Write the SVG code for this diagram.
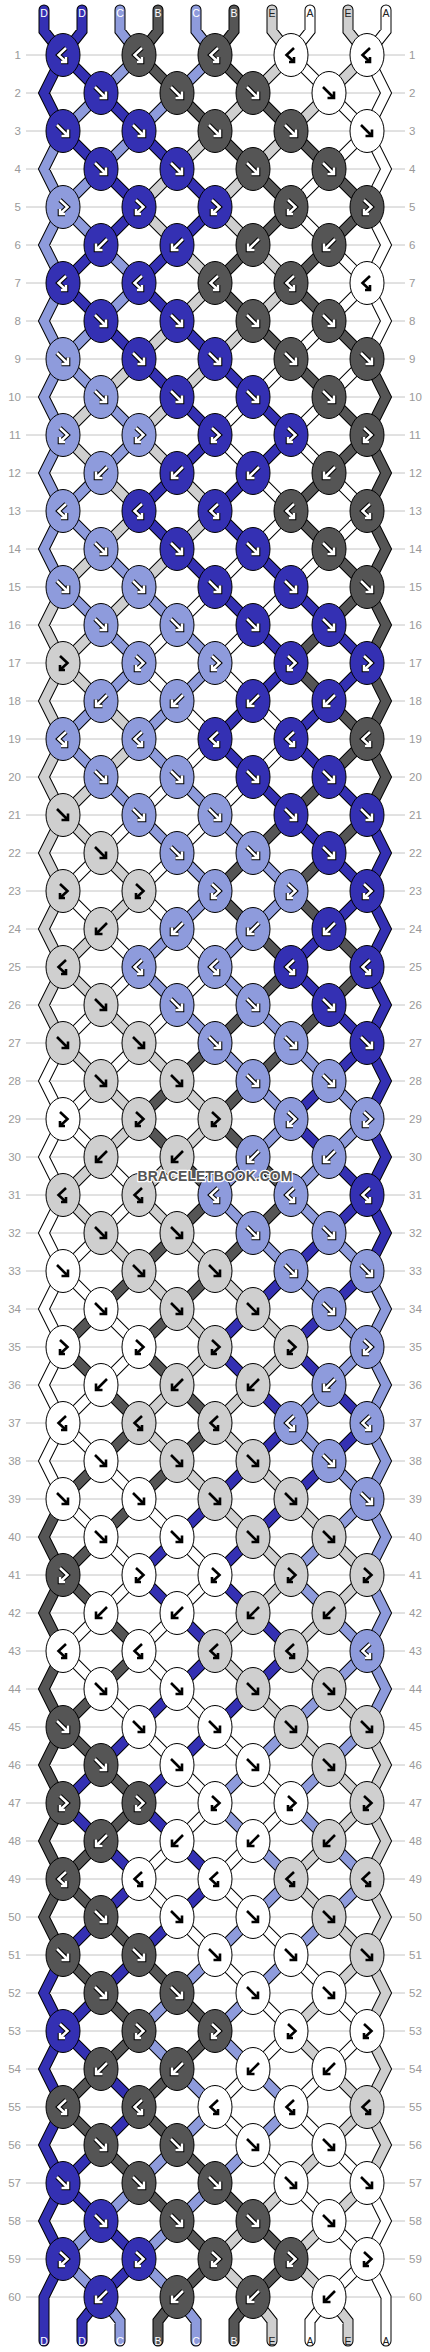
<svg xmlns="http://www.w3.org/2000/svg" width="430" height="2352" viewBox="0 0 430 2352">
<style>
.bg{fill:#fff}
.grid{fill:none;stroke:#c4c4c4;stroke-width:1}
.num{font-family:"Liberation Sans",Arial,sans-serif;font-size:11.5px;fill:#999}
.nl{text-anchor:end}
.str use{fill:none;stroke-linecap:round;stroke-linejoin:miter}
.o{stroke:#000;stroke-width:11}
.sD{stroke:#3430b3;stroke-width:9}
.sC{stroke:#8e9bdc;stroke-width:9}
.sB{stroke:#555;stroke-width:9}
.sE{stroke:#cfcfcf;stroke-width:9}
.sA{stroke:#fff;stroke-width:9}
ellipse{stroke:#000;stroke-width:1}
.D{fill:#3430b3}.C{fill:#8e9bdc}.B{fill:#555}.E{fill:#cfcfcf}.A{fill:#fff}
.ao{fill:none;stroke:#000;stroke-width:4.6}
.ai{fill:none;stroke:#fff;stroke-width:2.5}
.ak{fill:none;stroke:#000;stroke-width:2.6}
.lab{font-family:"Liberation Sans",Arial,sans-serif;font-size:10.5px;text-anchor:middle}
.lw{fill:#fff}.lk{fill:#222}
.wm{font-family:"Liberation Sans",Arial,sans-serif;font-size:14px;font-weight:bold;text-anchor:middle;fill:#555;stroke:#fff;stroke-width:2.5px;paint-order:stroke;stroke-linejoin:round}
</style>
<defs>
<path id="gf" d="M-6-6L4.5 4.5M-1.5 5H5V-1.5"/>
<path id="gb" d="M6-6L-4.5 4.5M1.5 5H-5V-1.5"/>
<path id="gfb" d="M-3-7L4.5 0-3 7M2 7H-3V2"/>
<path id="gbf" d="M3-7L-4.5 0 3 7M-2 7H3V2"/>
<g id="fW"><use href="#gf" class="ao"/><use href="#gf" class="ai"/></g>
<g id="bW"><use href="#gb" class="ao"/><use href="#gb" class="ai"/></g>
<g id="fbW"><use href="#gfb" class="ao"/><use href="#gfb" class="ai"/></g>
<g id="bfW"><use href="#gbf" class="ao"/><use href="#gbf" class="ai"/></g>
<g id="fK"><use href="#gf" class="ak"/></g>
<g id="bK"><use href="#gb" class="ak"/></g>
<g id="fbK"><use href="#gfb" class="ak"/></g>
<g id="bfK"><use href="#gbf" class="ak"/></g>
<path id="pD" d="M44 10V31L63 55L44 93 63 131M82 10V31L63 55M63 1955L44 1993 63 2031 44 2069 63 2107 44 2145 63 2183 44 2221 63 2259 44 2297V2341M367 815L386 853 367 891 386 929 367 967 386 1005 367 1043 386 1081 367 1119 386 1157 367 1195 386 1233 367 1271M101 2297L82 2321V2341M63 55l38 38M101 93l38 38M63 131l38 38M139 131l38 38M101 169l38 38M177 169l38 38M139 207l-38 38M215 207l-38 38M101 245l-38 38M177 245l-38 38M63 283l38 38M139 283l38 38M101 321l38 38M177 321l38 38M139 359l38 38M215 359l38 38M177 397l38 38M253 397l38 38M215 435l-38 38M291 435l-38 38M177 473l-38 38M253 473l-38 38M139 511l38 38M215 511l38 38M177 549l38 38M253 549l38 38M215 587l38 38M291 587l38 38M253 625l38 38M329 625l38 38M291 663l-38 38M367 663l-38 38M253 701l-38 38M329 701l-38 38M215 739l38 38M291 739l38 38M253 777l38 38M329 777l38 38M291 815l38 38M329 853l38 38M367 891l-38 38M329 929l-38 38M291 967l38 38M329 1005l38 38M367 1043l-38 38M329 1081l-38 38M291 1119l38 38M329 1157l38 38M367 1195l-38 38M329 1233l-38 38M291 1271l-38 38M367 1271l-38 38M253 1309l-38 38M329 1309l-38 38M215 1347l38 38M291 1347l38 38M253 1385l38 38M329 1385l38 38M291 1423l-38 38M367 1423l-38 38M253 1461l-38 38M329 1461l-38 38M215 1499l-38 38M291 1499l-38 38M177 1537l-38 38M253 1537l-38 38M139 1575l38 38M215 1575l38 38M177 1613l38 38M253 1613l38 38M215 1651l-38 38M291 1651l-38 38M177 1689l-38 38M253 1689l-38 38M139 1727l-38 38M215 1727l-38 38M101 1765l-38 38M177 1765l-38 38M63 1803l38 38M139 1803l38 38M101 1841l38 38M177 1841l38 38M139 1879l-38 38M215 1879l-38 38M101 1917l-38 38M177 1917l-38 38M139 1955l-38 38M101 1993l-38 38M63 2031l38 38M101 2069l38 38M139 2107l-38 38M101 2145l-38 38M63 2183l38 38M101 2221l38 38M139 2259l-38 38"/>
<path id="pC" d="M120 10V31L139 55M196 10V31L215 55M63 131L44 169 63 207 44 245 63 283 44 321 63 359 44 397 63 435 44 473 63 511 44 549 63 587M367 1271L386 1309 367 1347 386 1385 367 1423 386 1461 367 1499 386 1537 367 1575 386 1613 367 1651 386 1689 367 1727M101 2297L120 2321V2341M177 2297L196 2321V2341M139 55l-38 38M215 55l-38 38M101 93l-38 38M177 93l-38 38M139 131l-38 38M101 169l-38 38M63 207l38 38M101 245l38 38M139 283l-38 38M101 321l-38 38M63 359l38 38M101 397l38 38M139 435l-38 38M101 473l-38 38M63 511l38 38M101 549l38 38M63 587l38 38M139 587l38 38M101 625l38 38M177 625l38 38M139 663l-38 38M215 663l-38 38M101 701l-38 38M177 701l-38 38M63 739l38 38M139 739l38 38M101 777l38 38M177 777l38 38M139 815l38 38M215 815l38 38M177 853l38 38M253 853l38 38M215 891l-38 38M291 891l-38 38M177 929l-38 38M253 929l-38 38M139 967l38 38M215 967l38 38M177 1005l38 38M253 1005l38 38M215 1043l38 38M291 1043l38 38M253 1081l38 38M329 1081l38 38M291 1119l-38 38M367 1119l-38 38M253 1157l-38 38M329 1157l-38 38M215 1195l38 38M291 1195l38 38M253 1233l38 38M329 1233l38 38M291 1271l38 38M329 1309l38 38M367 1347l-38 38M329 1385l-38 38M291 1423l38 38M329 1461l38 38M367 1499l-38 38M329 1537l-38 38M291 1575l38 38M329 1613l38 38M367 1651l-38 38M329 1689l-38 38M291 1727l-38 38M367 1727l-38 38M253 1765l-38 38M329 1765l-38 38M215 1803l38 38M291 1803l38 38M253 1841l38 38M329 1841l38 38M291 1879l-38 38M367 1879l-38 38M253 1917l-38 38M329 1917l-38 38M215 1955l-38 38M291 1955l-38 38M177 1993l-38 38M253 1993l-38 38M139 2031l38 38M215 2031l38 38M177 2069l38 38M253 2069l38 38M215 2107l-38 38M291 2107l-38 38M177 2145l-38 38M253 2145l-38 38M139 2183l-38 38M215 2183l-38 38M101 2221l-38 38M177 2221l-38 38M63 2259l38 38M139 2259l38 38"/>
<path id="pB" d="M158 10V31L139 55M234 10V31L215 55M367 359L386 397 367 435 386 473 367 511 386 549 367 587 386 625 367 663 386 701 367 739 386 777 367 815M63 1499L44 1537 63 1575 44 1613 63 1651 44 1689 63 1727 44 1765 63 1803 44 1841 63 1879 44 1917 63 1955M177 2297L158 2321V2341M253 2297L234 2321V2341M139 55l38 38M215 55l38 38M177 93l38 38M253 93l38 38M215 131l38 38M291 131l38 38M253 169l38 38M329 169l38 38M291 207l-38 38M367 207l-38 38M253 245l-38 38M329 245l-38 38M215 283l38 38M291 283l38 38M253 321l38 38M329 321l38 38M291 359l38 38M329 397l38 38M367 435l-38 38M329 473l-38 38M291 511l38 38M329 549l38 38M367 587l-38 38M329 625l-38 38M291 663l38 38M329 701l38 38M367 739l-38 38M329 777l-38 38M291 815l-38 38M367 815l-38 38M253 853l-38 38M329 853l-38 38M215 891l38 38M291 891l38 38M253 929l38 38M329 929l38 38M291 967l-38 38M367 967l-38 38M253 1005l-38 38M329 1005l-38 38M215 1043l-38 38M291 1043l-38 38M177 1081l-38 38M253 1081l-38 38M139 1119l38 38M215 1119l38 38M177 1157l38 38M253 1157l38 38M215 1195l-38 38M291 1195l-38 38M177 1233l-38 38M253 1233l-38 38M139 1271l-38 38M215 1271l-38 38M101 1309l-38 38M177 1309l-38 38M63 1347l38 38M139 1347l38 38M101 1385l38 38M177 1385l38 38M139 1423l-38 38M215 1423l-38 38M101 1461l-38 38M177 1461l-38 38M139 1499l-38 38M101 1537l-38 38M63 1575l38 38M101 1613l38 38M139 1651l-38 38M101 1689l-38 38M63 1727l38 38M101 1765l38 38M139 1803l-38 38M101 1841l-38 38M63 1879l38 38M101 1917l38 38M63 1955l38 38M139 1955l38 38M101 1993l38 38M177 1993l38 38M139 2031l-38 38M215 2031l-38 38M101 2069l-38 38M177 2069l-38 38M63 2107l38 38M139 2107l38 38M101 2145l38 38M177 2145l38 38M139 2183l38 38M215 2183l38 38M177 2221l38 38M253 2221l38 38M215 2259l-38 38M291 2259l-38 38"/>
<path id="pE" d="M272 10V31L291 55M348 10V31L367 55M63 587L44 625 63 663 44 701 63 739 44 777 63 815 44 853 63 891 44 929 63 967 44 1005 63 1043M367 1727L386 1765 367 1803 386 1841 367 1879 386 1917 367 1955 386 1993 367 2031 386 2069 367 2107 386 2145 367 2183M253 2297L272 2321V2341M329 2297L348 2321V2341M291 55l-38 38M367 55l-38 38M253 93l-38 38M329 93l-38 38M215 131l-38 38M291 131l-38 38M177 169l-38 38M253 169l-38 38M139 207l38 38M215 207l38 38M177 245l38 38M253 245l38 38M215 283l-38 38M291 283l-38 38M177 321l-38 38M253 321l-38 38M139 359l-38 38M215 359l-38 38M101 397l-38 38M177 397l-38 38M63 435l38 38M139 435l38 38M101 473l38 38M177 473l38 38M139 511l-38 38M215 511l-38 38M101 549l-38 38M177 549l-38 38M139 587l-38 38M101 625l-38 38M63 663l38 38M101 701l38 38M139 739l-38 38M101 777l-38 38M63 815l38 38M101 853l38 38M139 891l-38 38M101 929l-38 38M63 967l38 38M101 1005l38 38M63 1043l38 38M139 1043l38 38M101 1081l38 38M177 1081l38 38M139 1119l-38 38M215 1119l-38 38M101 1157l-38 38M177 1157l-38 38M63 1195l38 38M139 1195l38 38M101 1233l38 38M177 1233l38 38M139 1271l38 38M215 1271l38 38M177 1309l38 38M253 1309l38 38M215 1347l-38 38M291 1347l-38 38M177 1385l-38 38M253 1385l-38 38M139 1423l38 38M215 1423l38 38M177 1461l38 38M253 1461l38 38M215 1499l38 38M291 1499l38 38M253 1537l38 38M329 1537l38 38M291 1575l-38 38M367 1575l-38 38M253 1613l-38 38M329 1613l-38 38M215 1651l38 38M291 1651l38 38M253 1689l38 38M329 1689l38 38M291 1727l38 38M329 1765l38 38M367 1803l-38 38M329 1841l-38 38M291 1879l38 38M329 1917l38 38M367 1955l-38 38M329 1993l-38 38M291 2031l38 38M329 2069l38 38M367 2107l-38 38M329 2145l-38 38M291 2183l-38 38M367 2183l-38 38M253 2221l-38 38M329 2221l-38 38M215 2259l38 38M291 2259l38 38"/>
<path id="pA" d="M310 10V31L291 55M386 10V31L367 55L386 93 367 131 386 169 367 207 386 245 367 283 386 321 367 359M63 1043L44 1081 63 1119 44 1157 63 1195 44 1233 63 1271 44 1309 63 1347 44 1385 63 1423 44 1461 63 1499M367 2183L386 2221 367 2259 386 2297V2341M329 2297L310 2321V2341M291 55l38 38M329 93l38 38M367 131l-38 38M329 169l-38 38M291 207l38 38M329 245l38 38M367 283l-38 38M329 321l-38 38M291 359l-38 38M367 359l-38 38M253 397l-38 38M329 397l-38 38M215 435l38 38M291 435l38 38M253 473l38 38M329 473l38 38M291 511l-38 38M367 511l-38 38M253 549l-38 38M329 549l-38 38M215 587l-38 38M291 587l-38 38M177 625l-38 38M253 625l-38 38M139 663l38 38M215 663l38 38M177 701l38 38M253 701l38 38M215 739l-38 38M291 739l-38 38M177 777l-38 38M253 777l-38 38M139 815l-38 38M215 815l-38 38M101 853l-38 38M177 853l-38 38M63 891l38 38M139 891l38 38M101 929l38 38M177 929l38 38M139 967l-38 38M215 967l-38 38M101 1005l-38 38M177 1005l-38 38M139 1043l-38 38M101 1081l-38 38M63 1119l38 38M101 1157l38 38M139 1195l-38 38M101 1233l-38 38M63 1271l38 38M101 1309l38 38M139 1347l-38 38M101 1385l-38 38M63 1423l38 38M101 1461l38 38M63 1499l38 38M139 1499l38 38M101 1537l38 38M177 1537l38 38M139 1575l-38 38M215 1575l-38 38M101 1613l-38 38M177 1613l-38 38M63 1651l38 38M139 1651l38 38M101 1689l38 38M177 1689l38 38M139 1727l38 38M215 1727l38 38M177 1765l38 38M253 1765l38 38M215 1803l-38 38M291 1803l-38 38M177 1841l-38 38M253 1841l-38 38M139 1879l38 38M215 1879l38 38M177 1917l38 38M253 1917l38 38M215 1955l38 38M291 1955l38 38M253 1993l38 38M329 1993l38 38M291 2031l-38 38M367 2031l-38 38M253 2069l-38 38M329 2069l-38 38M215 2107l38 38M291 2107l38 38M253 2145l38 38M329 2145l38 38M291 2183l38 38M329 2221l38 38M367 2259l-38 38"/>
</defs>
<rect class="bg" width="430" height="2352"/>
<path class="grid" d="M26 55h379M26 93h379M26 131h379M26 169h379M26 207h379M26 245h379M26 283h379M26 321h379M26 359h379M26 397h379M26 435h379M26 473h379M26 511h379M26 549h379M26 587h379M26 625h379M26 663h379M26 701h379M26 739h379M26 777h379M26 815h379M26 853h379M26 891h379M26 929h379M26 967h379M26 1005h379M26 1043h379M26 1081h379M26 1119h379M26 1157h379M26 1195h379M26 1233h379M26 1271h379M26 1309h379M26 1347h379M26 1385h379M26 1423h379M26 1461h379M26 1499h379M26 1537h379M26 1575h379M26 1613h379M26 1651h379M26 1689h379M26 1727h379M26 1765h379M26 1803h379M26 1841h379M26 1879h379M26 1917h379M26 1955h379M26 1993h379M26 2031h379M26 2069h379M26 2107h379M26 2145h379M26 2183h379M26 2221h379M26 2259h379M26 2297h379"/>
<g class="num nl">
<text x="21" y="59">1</text><text x="21" y="97">2</text><text x="21" y="135">3</text><text x="21" y="173">4</text><text x="21" y="211">5</text><text x="21" y="249">6</text><text x="21" y="287">7</text><text x="21" y="325">8</text><text x="21" y="363">9</text><text x="21" y="401">10</text><text x="21" y="439">11</text><text x="21" y="477">12</text><text x="21" y="515">13</text><text x="21" y="553">14</text><text x="21" y="591">15</text><text x="21" y="629">16</text><text x="21" y="667">17</text><text x="21" y="705">18</text><text x="21" y="743">19</text><text x="21" y="781">20</text><text x="21" y="819">21</text><text x="21" y="857">22</text><text x="21" y="895">23</text><text x="21" y="933">24</text><text x="21" y="971">25</text><text x="21" y="1009">26</text><text x="21" y="1047">27</text><text x="21" y="1085">28</text><text x="21" y="1123">29</text><text x="21" y="1161">30</text><text x="21" y="1199">31</text><text x="21" y="1237">32</text><text x="21" y="1275">33</text><text x="21" y="1313">34</text><text x="21" y="1351">35</text><text x="21" y="1389">36</text><text x="21" y="1427">37</text><text x="21" y="1465">38</text><text x="21" y="1503">39</text><text x="21" y="1541">40</text><text x="21" y="1579">41</text><text x="21" y="1617">42</text><text x="21" y="1655">43</text><text x="21" y="1693">44</text><text x="21" y="1731">45</text><text x="21" y="1769">46</text><text x="21" y="1807">47</text><text x="21" y="1845">48</text><text x="21" y="1883">49</text><text x="21" y="1921">50</text><text x="21" y="1959">51</text><text x="21" y="1997">52</text><text x="21" y="2035">53</text><text x="21" y="2073">54</text><text x="21" y="2111">55</text><text x="21" y="2149">56</text><text x="21" y="2187">57</text><text x="21" y="2225">58</text><text x="21" y="2263">59</text><text x="21" y="2301">60</text>
</g>
<g class="num">
<text x="409" y="59">1</text><text x="409" y="97">2</text><text x="409" y="135">3</text><text x="409" y="173">4</text><text x="409" y="211">5</text><text x="409" y="249">6</text><text x="409" y="287">7</text><text x="409" y="325">8</text><text x="409" y="363">9</text><text x="409" y="401">10</text><text x="409" y="439">11</text><text x="409" y="477">12</text><text x="409" y="515">13</text><text x="409" y="553">14</text><text x="409" y="591">15</text><text x="409" y="629">16</text><text x="409" y="667">17</text><text x="409" y="705">18</text><text x="409" y="743">19</text><text x="409" y="781">20</text><text x="409" y="819">21</text><text x="409" y="857">22</text><text x="409" y="895">23</text><text x="409" y="933">24</text><text x="409" y="971">25</text><text x="409" y="1009">26</text><text x="409" y="1047">27</text><text x="409" y="1085">28</text><text x="409" y="1123">29</text><text x="409" y="1161">30</text><text x="409" y="1199">31</text><text x="409" y="1237">32</text><text x="409" y="1275">33</text><text x="409" y="1313">34</text><text x="409" y="1351">35</text><text x="409" y="1389">36</text><text x="409" y="1427">37</text><text x="409" y="1465">38</text><text x="409" y="1503">39</text><text x="409" y="1541">40</text><text x="409" y="1579">41</text><text x="409" y="1617">42</text><text x="409" y="1655">43</text><text x="409" y="1693">44</text><text x="409" y="1731">45</text><text x="409" y="1769">46</text><text x="409" y="1807">47</text><text x="409" y="1845">48</text><text x="409" y="1883">49</text><text x="409" y="1921">50</text><text x="409" y="1959">51</text><text x="409" y="1997">52</text><text x="409" y="2035">53</text><text x="409" y="2073">54</text><text x="409" y="2111">55</text><text x="409" y="2149">56</text><text x="409" y="2187">57</text><text x="409" y="2225">58</text><text x="409" y="2263">59</text><text x="409" y="2301">60</text>
</g>
<g id="connectors" class="str">
<use href="#pD" class="o"/><use href="#pC" class="o"/><use href="#pB" class="o"/><use href="#pE" class="o"/><use href="#pA" class="o"/>
<use href="#pD" class="sD"/><use href="#pC" class="sC"/><use href="#pB" class="sB"/><use href="#pE" class="sE"/><use href="#pA" class="sA"/>
</g>
<g id="labels" class="lab">
<text class="lw" x="44" y="17">D</text><text class="lw" x="82" y="17">D</text><text class="lw" x="120" y="17">C</text><text class="lw" x="158" y="17">B</text><text class="lw" x="196" y="17">C</text><text class="lw" x="234" y="17">B</text><text class="lk" x="272" y="17">E</text><text class="lk" x="310" y="17">A</text><text class="lk" x="348" y="17">E</text><text class="lk" x="386" y="17">A</text>
<text class="lw" x="44" y="2345">D</text><text class="lw" x="82" y="2345">D</text><text class="lw" x="120" y="2345">C</text><text class="lw" x="158" y="2345">B</text><text class="lw" x="196" y="2345">C</text><text class="lw" x="234" y="2345">B</text><text class="lk" x="272" y="2345">E</text><text class="lk" x="310" y="2345">A</text><text class="lk" x="348" y="2345">E</text><text class="lk" x="386" y="2345">A</text>
</g>
<g id="knots">
<g id="k1_1" transform="translate(63 55)"><ellipse class="D" rx="17" ry="21.5"/><use href="#bfW"/></g>
<g id="k1_2" transform="translate(139 55)"><ellipse class="B" rx="17" ry="21.5"/><use href="#bfW"/></g>
<g id="k1_3" transform="translate(215 55)"><ellipse class="B" rx="17" ry="21.5"/><use href="#bfW"/></g>
<g id="k1_4" transform="translate(291 55)"><ellipse class="A" rx="17" ry="21.5"/><use href="#bfK"/></g>
<g id="k1_5" transform="translate(367 55)"><ellipse class="A" rx="17" ry="21.5"/><use href="#bfK"/></g>
<g id="k2_1" transform="translate(101 93)"><ellipse class="D" rx="17" ry="21.5"/><use href="#fW"/></g>
<g id="k2_2" transform="translate(177 93)"><ellipse class="B" rx="17" ry="21.5"/><use href="#fW"/></g>
<g id="k2_3" transform="translate(253 93)"><ellipse class="B" rx="17" ry="21.5"/><use href="#fW"/></g>
<g id="k2_4" transform="translate(329 93)"><ellipse class="A" rx="17" ry="21.5"/><use href="#fK"/></g>
<g id="k3_1" transform="translate(63 131)"><ellipse class="D" rx="17" ry="21.5"/><use href="#fW"/></g>
<g id="k3_2" transform="translate(139 131)"><ellipse class="D" rx="17" ry="21.5"/><use href="#fW"/></g>
<g id="k3_3" transform="translate(215 131)"><ellipse class="B" rx="17" ry="21.5"/><use href="#fW"/></g>
<g id="k3_4" transform="translate(291 131)"><ellipse class="B" rx="17" ry="21.5"/><use href="#fW"/></g>
<g id="k3_5" transform="translate(367 131)"><ellipse class="A" rx="17" ry="21.5"/><use href="#fK"/></g>
<g id="k4_1" transform="translate(101 169)"><ellipse class="D" rx="17" ry="21.5"/><use href="#fW"/></g>
<g id="k4_2" transform="translate(177 169)"><ellipse class="D" rx="17" ry="21.5"/><use href="#fW"/></g>
<g id="k4_3" transform="translate(253 169)"><ellipse class="B" rx="17" ry="21.5"/><use href="#fW"/></g>
<g id="k4_4" transform="translate(329 169)"><ellipse class="B" rx="17" ry="21.5"/><use href="#fW"/></g>
<g id="k5_1" transform="translate(63 207)"><ellipse class="C" rx="17" ry="21.5"/><use href="#fbW"/></g>
<g id="k5_2" transform="translate(139 207)"><ellipse class="D" rx="17" ry="21.5"/><use href="#fbW"/></g>
<g id="k5_3" transform="translate(215 207)"><ellipse class="D" rx="17" ry="21.5"/><use href="#fbW"/></g>
<g id="k5_4" transform="translate(291 207)"><ellipse class="B" rx="17" ry="21.5"/><use href="#fbW"/></g>
<g id="k5_5" transform="translate(367 207)"><ellipse class="B" rx="17" ry="21.5"/><use href="#fbW"/></g>
<g id="k6_1" transform="translate(101 245)"><ellipse class="D" rx="17" ry="21.5"/><use href="#bW"/></g>
<g id="k6_2" transform="translate(177 245)"><ellipse class="D" rx="17" ry="21.5"/><use href="#bW"/></g>
<g id="k6_3" transform="translate(253 245)"><ellipse class="B" rx="17" ry="21.5"/><use href="#bW"/></g>
<g id="k6_4" transform="translate(329 245)"><ellipse class="B" rx="17" ry="21.5"/><use href="#bW"/></g>
<g id="k7_1" transform="translate(63 283)"><ellipse class="D" rx="17" ry="21.5"/><use href="#bfW"/></g>
<g id="k7_2" transform="translate(139 283)"><ellipse class="D" rx="17" ry="21.5"/><use href="#bfW"/></g>
<g id="k7_3" transform="translate(215 283)"><ellipse class="B" rx="17" ry="21.5"/><use href="#bfW"/></g>
<g id="k7_4" transform="translate(291 283)"><ellipse class="B" rx="17" ry="21.5"/><use href="#bfW"/></g>
<g id="k7_5" transform="translate(367 283)"><ellipse class="A" rx="17" ry="21.5"/><use href="#bfK"/></g>
<g id="k8_1" transform="translate(101 321)"><ellipse class="D" rx="17" ry="21.5"/><use href="#fW"/></g>
<g id="k8_2" transform="translate(177 321)"><ellipse class="D" rx="17" ry="21.5"/><use href="#fW"/></g>
<g id="k8_3" transform="translate(253 321)"><ellipse class="B" rx="17" ry="21.5"/><use href="#fW"/></g>
<g id="k8_4" transform="translate(329 321)"><ellipse class="B" rx="17" ry="21.5"/><use href="#fW"/></g>
<g id="k9_1" transform="translate(63 359)"><ellipse class="C" rx="17" ry="21.5"/><use href="#fW"/></g>
<g id="k9_2" transform="translate(139 359)"><ellipse class="D" rx="17" ry="21.5"/><use href="#fW"/></g>
<g id="k9_3" transform="translate(215 359)"><ellipse class="D" rx="17" ry="21.5"/><use href="#fW"/></g>
<g id="k9_4" transform="translate(291 359)"><ellipse class="B" rx="17" ry="21.5"/><use href="#fW"/></g>
<g id="k9_5" transform="translate(367 359)"><ellipse class="B" rx="17" ry="21.5"/><use href="#fW"/></g>
<g id="k10_1" transform="translate(101 397)"><ellipse class="C" rx="17" ry="21.5"/><use href="#fW"/></g>
<g id="k10_2" transform="translate(177 397)"><ellipse class="D" rx="17" ry="21.5"/><use href="#fW"/></g>
<g id="k10_3" transform="translate(253 397)"><ellipse class="D" rx="17" ry="21.5"/><use href="#fW"/></g>
<g id="k10_4" transform="translate(329 397)"><ellipse class="B" rx="17" ry="21.5"/><use href="#fW"/></g>
<g id="k11_1" transform="translate(63 435)"><ellipse class="C" rx="17" ry="21.5"/><use href="#fbW"/></g>
<g id="k11_2" transform="translate(139 435)"><ellipse class="C" rx="17" ry="21.5"/><use href="#fbW"/></g>
<g id="k11_3" transform="translate(215 435)"><ellipse class="D" rx="17" ry="21.5"/><use href="#fbW"/></g>
<g id="k11_4" transform="translate(291 435)"><ellipse class="D" rx="17" ry="21.5"/><use href="#fbW"/></g>
<g id="k11_5" transform="translate(367 435)"><ellipse class="B" rx="17" ry="21.5"/><use href="#fbW"/></g>
<g id="k12_1" transform="translate(101 473)"><ellipse class="C" rx="17" ry="21.5"/><use href="#bW"/></g>
<g id="k12_2" transform="translate(177 473)"><ellipse class="D" rx="17" ry="21.5"/><use href="#bW"/></g>
<g id="k12_3" transform="translate(253 473)"><ellipse class="D" rx="17" ry="21.5"/><use href="#bW"/></g>
<g id="k12_4" transform="translate(329 473)"><ellipse class="B" rx="17" ry="21.5"/><use href="#bW"/></g>
<g id="k13_1" transform="translate(63 511)"><ellipse class="C" rx="17" ry="21.5"/><use href="#bfW"/></g>
<g id="k13_2" transform="translate(139 511)"><ellipse class="D" rx="17" ry="21.5"/><use href="#bfW"/></g>
<g id="k13_3" transform="translate(215 511)"><ellipse class="D" rx="17" ry="21.5"/><use href="#bfW"/></g>
<g id="k13_4" transform="translate(291 511)"><ellipse class="B" rx="17" ry="21.5"/><use href="#bfW"/></g>
<g id="k13_5" transform="translate(367 511)"><ellipse class="B" rx="17" ry="21.5"/><use href="#bfW"/></g>
<g id="k14_1" transform="translate(101 549)"><ellipse class="C" rx="17" ry="21.5"/><use href="#fW"/></g>
<g id="k14_2" transform="translate(177 549)"><ellipse class="D" rx="17" ry="21.5"/><use href="#fW"/></g>
<g id="k14_3" transform="translate(253 549)"><ellipse class="D" rx="17" ry="21.5"/><use href="#fW"/></g>
<g id="k14_4" transform="translate(329 549)"><ellipse class="B" rx="17" ry="21.5"/><use href="#fW"/></g>
<g id="k15_1" transform="translate(63 587)"><ellipse class="C" rx="17" ry="21.5"/><use href="#fW"/></g>
<g id="k15_2" transform="translate(139 587)"><ellipse class="C" rx="17" ry="21.5"/><use href="#fW"/></g>
<g id="k15_3" transform="translate(215 587)"><ellipse class="D" rx="17" ry="21.5"/><use href="#fW"/></g>
<g id="k15_4" transform="translate(291 587)"><ellipse class="D" rx="17" ry="21.5"/><use href="#fW"/></g>
<g id="k15_5" transform="translate(367 587)"><ellipse class="B" rx="17" ry="21.5"/><use href="#fW"/></g>
<g id="k16_1" transform="translate(101 625)"><ellipse class="C" rx="17" ry="21.5"/><use href="#fW"/></g>
<g id="k16_2" transform="translate(177 625)"><ellipse class="C" rx="17" ry="21.5"/><use href="#fW"/></g>
<g id="k16_3" transform="translate(253 625)"><ellipse class="D" rx="17" ry="21.5"/><use href="#fW"/></g>
<g id="k16_4" transform="translate(329 625)"><ellipse class="D" rx="17" ry="21.5"/><use href="#fW"/></g>
<g id="k17_1" transform="translate(63 663)"><ellipse class="E" rx="17" ry="21.5"/><use href="#fbK"/></g>
<g id="k17_2" transform="translate(139 663)"><ellipse class="C" rx="17" ry="21.5"/><use href="#fbW"/></g>
<g id="k17_3" transform="translate(215 663)"><ellipse class="C" rx="17" ry="21.5"/><use href="#fbW"/></g>
<g id="k17_4" transform="translate(291 663)"><ellipse class="D" rx="17" ry="21.5"/><use href="#fbW"/></g>
<g id="k17_5" transform="translate(367 663)"><ellipse class="D" rx="17" ry="21.5"/><use href="#fbW"/></g>
<g id="k18_1" transform="translate(101 701)"><ellipse class="C" rx="17" ry="21.5"/><use href="#bW"/></g>
<g id="k18_2" transform="translate(177 701)"><ellipse class="C" rx="17" ry="21.5"/><use href="#bW"/></g>
<g id="k18_3" transform="translate(253 701)"><ellipse class="D" rx="17" ry="21.5"/><use href="#bW"/></g>
<g id="k18_4" transform="translate(329 701)"><ellipse class="D" rx="17" ry="21.5"/><use href="#bW"/></g>
<g id="k19_1" transform="translate(63 739)"><ellipse class="C" rx="17" ry="21.5"/><use href="#bfW"/></g>
<g id="k19_2" transform="translate(139 739)"><ellipse class="C" rx="17" ry="21.5"/><use href="#bfW"/></g>
<g id="k19_3" transform="translate(215 739)"><ellipse class="D" rx="17" ry="21.5"/><use href="#bfW"/></g>
<g id="k19_4" transform="translate(291 739)"><ellipse class="D" rx="17" ry="21.5"/><use href="#bfW"/></g>
<g id="k19_5" transform="translate(367 739)"><ellipse class="B" rx="17" ry="21.5"/><use href="#bfW"/></g>
<g id="k20_1" transform="translate(101 777)"><ellipse class="C" rx="17" ry="21.5"/><use href="#fW"/></g>
<g id="k20_2" transform="translate(177 777)"><ellipse class="C" rx="17" ry="21.5"/><use href="#fW"/></g>
<g id="k20_3" transform="translate(253 777)"><ellipse class="D" rx="17" ry="21.5"/><use href="#fW"/></g>
<g id="k20_4" transform="translate(329 777)"><ellipse class="D" rx="17" ry="21.5"/><use href="#fW"/></g>
<g id="k21_1" transform="translate(63 815)"><ellipse class="E" rx="17" ry="21.5"/><use href="#fK"/></g>
<g id="k21_2" transform="translate(139 815)"><ellipse class="C" rx="17" ry="21.5"/><use href="#fW"/></g>
<g id="k21_3" transform="translate(215 815)"><ellipse class="C" rx="17" ry="21.5"/><use href="#fW"/></g>
<g id="k21_4" transform="translate(291 815)"><ellipse class="D" rx="17" ry="21.5"/><use href="#fW"/></g>
<g id="k21_5" transform="translate(367 815)"><ellipse class="D" rx="17" ry="21.5"/><use href="#fW"/></g>
<g id="k22_1" transform="translate(101 853)"><ellipse class="E" rx="17" ry="21.5"/><use href="#fK"/></g>
<g id="k22_2" transform="translate(177 853)"><ellipse class="C" rx="17" ry="21.5"/><use href="#fW"/></g>
<g id="k22_3" transform="translate(253 853)"><ellipse class="C" rx="17" ry="21.5"/><use href="#fW"/></g>
<g id="k22_4" transform="translate(329 853)"><ellipse class="D" rx="17" ry="21.5"/><use href="#fW"/></g>
<g id="k23_1" transform="translate(63 891)"><ellipse class="E" rx="17" ry="21.5"/><use href="#fbK"/></g>
<g id="k23_2" transform="translate(139 891)"><ellipse class="E" rx="17" ry="21.5"/><use href="#fbK"/></g>
<g id="k23_3" transform="translate(215 891)"><ellipse class="C" rx="17" ry="21.5"/><use href="#fbW"/></g>
<g id="k23_4" transform="translate(291 891)"><ellipse class="C" rx="17" ry="21.5"/><use href="#fbW"/></g>
<g id="k23_5" transform="translate(367 891)"><ellipse class="D" rx="17" ry="21.5"/><use href="#fbW"/></g>
<g id="k24_1" transform="translate(101 929)"><ellipse class="E" rx="17" ry="21.5"/><use href="#bK"/></g>
<g id="k24_2" transform="translate(177 929)"><ellipse class="C" rx="17" ry="21.5"/><use href="#bW"/></g>
<g id="k24_3" transform="translate(253 929)"><ellipse class="C" rx="17" ry="21.5"/><use href="#bW"/></g>
<g id="k24_4" transform="translate(329 929)"><ellipse class="D" rx="17" ry="21.5"/><use href="#bW"/></g>
<g id="k25_1" transform="translate(63 967)"><ellipse class="E" rx="17" ry="21.5"/><use href="#bfK"/></g>
<g id="k25_2" transform="translate(139 967)"><ellipse class="C" rx="17" ry="21.5"/><use href="#bfW"/></g>
<g id="k25_3" transform="translate(215 967)"><ellipse class="C" rx="17" ry="21.5"/><use href="#bfW"/></g>
<g id="k25_4" transform="translate(291 967)"><ellipse class="D" rx="17" ry="21.5"/><use href="#bfW"/></g>
<g id="k25_5" transform="translate(367 967)"><ellipse class="D" rx="17" ry="21.5"/><use href="#bfW"/></g>
<g id="k26_1" transform="translate(101 1005)"><ellipse class="E" rx="17" ry="21.5"/><use href="#fK"/></g>
<g id="k26_2" transform="translate(177 1005)"><ellipse class="C" rx="17" ry="21.5"/><use href="#fW"/></g>
<g id="k26_3" transform="translate(253 1005)"><ellipse class="C" rx="17" ry="21.5"/><use href="#fW"/></g>
<g id="k26_4" transform="translate(329 1005)"><ellipse class="D" rx="17" ry="21.5"/><use href="#fW"/></g>
<g id="k27_1" transform="translate(63 1043)"><ellipse class="E" rx="17" ry="21.5"/><use href="#fK"/></g>
<g id="k27_2" transform="translate(139 1043)"><ellipse class="E" rx="17" ry="21.5"/><use href="#fK"/></g>
<g id="k27_3" transform="translate(215 1043)"><ellipse class="C" rx="17" ry="21.5"/><use href="#fW"/></g>
<g id="k27_4" transform="translate(291 1043)"><ellipse class="C" rx="17" ry="21.5"/><use href="#fW"/></g>
<g id="k27_5" transform="translate(367 1043)"><ellipse class="D" rx="17" ry="21.5"/><use href="#fW"/></g>
<g id="k28_1" transform="translate(101 1081)"><ellipse class="E" rx="17" ry="21.5"/><use href="#fK"/></g>
<g id="k28_2" transform="translate(177 1081)"><ellipse class="E" rx="17" ry="21.5"/><use href="#fK"/></g>
<g id="k28_3" transform="translate(253 1081)"><ellipse class="C" rx="17" ry="21.5"/><use href="#fW"/></g>
<g id="k28_4" transform="translate(329 1081)"><ellipse class="C" rx="17" ry="21.5"/><use href="#fW"/></g>
<g id="k29_1" transform="translate(63 1119)"><ellipse class="A" rx="17" ry="21.5"/><use href="#fbK"/></g>
<g id="k29_2" transform="translate(139 1119)"><ellipse class="E" rx="17" ry="21.5"/><use href="#fbK"/></g>
<g id="k29_3" transform="translate(215 1119)"><ellipse class="E" rx="17" ry="21.5"/><use href="#fbK"/></g>
<g id="k29_4" transform="translate(291 1119)"><ellipse class="C" rx="17" ry="21.5"/><use href="#fbW"/></g>
<g id="k29_5" transform="translate(367 1119)"><ellipse class="C" rx="17" ry="21.5"/><use href="#fbW"/></g>
<g id="k30_1" transform="translate(101 1157)"><ellipse class="E" rx="17" ry="21.5"/><use href="#bK"/></g>
<g id="k30_2" transform="translate(177 1157)"><ellipse class="E" rx="17" ry="21.5"/><use href="#bK"/></g>
<g id="k30_3" transform="translate(253 1157)"><ellipse class="C" rx="17" ry="21.5"/><use href="#bW"/></g>
<g id="k30_4" transform="translate(329 1157)"><ellipse class="C" rx="17" ry="21.5"/><use href="#bW"/></g>
<g id="k31_1" transform="translate(63 1195)"><ellipse class="E" rx="17" ry="21.5"/><use href="#bfK"/></g>
<g id="k31_2" transform="translate(139 1195)"><ellipse class="E" rx="17" ry="21.5"/><use href="#bfK"/></g>
<g id="k31_3" transform="translate(215 1195)"><ellipse class="C" rx="17" ry="21.5"/><use href="#bfW"/></g>
<g id="k31_4" transform="translate(291 1195)"><ellipse class="C" rx="17" ry="21.5"/><use href="#bfW"/></g>
<g id="k31_5" transform="translate(367 1195)"><ellipse class="D" rx="17" ry="21.5"/><use href="#bfW"/></g>
<g id="k32_1" transform="translate(101 1233)"><ellipse class="E" rx="17" ry="21.5"/><use href="#fK"/></g>
<g id="k32_2" transform="translate(177 1233)"><ellipse class="E" rx="17" ry="21.5"/><use href="#fK"/></g>
<g id="k32_3" transform="translate(253 1233)"><ellipse class="C" rx="17" ry="21.5"/><use href="#fW"/></g>
<g id="k32_4" transform="translate(329 1233)"><ellipse class="C" rx="17" ry="21.5"/><use href="#fW"/></g>
<g id="k33_1" transform="translate(63 1271)"><ellipse class="A" rx="17" ry="21.5"/><use href="#fK"/></g>
<g id="k33_2" transform="translate(139 1271)"><ellipse class="E" rx="17" ry="21.5"/><use href="#fK"/></g>
<g id="k33_3" transform="translate(215 1271)"><ellipse class="E" rx="17" ry="21.5"/><use href="#fK"/></g>
<g id="k33_4" transform="translate(291 1271)"><ellipse class="C" rx="17" ry="21.5"/><use href="#fW"/></g>
<g id="k33_5" transform="translate(367 1271)"><ellipse class="C" rx="17" ry="21.5"/><use href="#fW"/></g>
<g id="k34_1" transform="translate(101 1309)"><ellipse class="A" rx="17" ry="21.5"/><use href="#fK"/></g>
<g id="k34_2" transform="translate(177 1309)"><ellipse class="E" rx="17" ry="21.5"/><use href="#fK"/></g>
<g id="k34_3" transform="translate(253 1309)"><ellipse class="E" rx="17" ry="21.5"/><use href="#fK"/></g>
<g id="k34_4" transform="translate(329 1309)"><ellipse class="C" rx="17" ry="21.5"/><use href="#fW"/></g>
<g id="k35_1" transform="translate(63 1347)"><ellipse class="A" rx="17" ry="21.5"/><use href="#fbK"/></g>
<g id="k35_2" transform="translate(139 1347)"><ellipse class="A" rx="17" ry="21.5"/><use href="#fbK"/></g>
<g id="k35_3" transform="translate(215 1347)"><ellipse class="E" rx="17" ry="21.5"/><use href="#fbK"/></g>
<g id="k35_4" transform="translate(291 1347)"><ellipse class="E" rx="17" ry="21.5"/><use href="#fbK"/></g>
<g id="k35_5" transform="translate(367 1347)"><ellipse class="C" rx="17" ry="21.5"/><use href="#fbW"/></g>
<g id="k36_1" transform="translate(101 1385)"><ellipse class="A" rx="17" ry="21.5"/><use href="#bK"/></g>
<g id="k36_2" transform="translate(177 1385)"><ellipse class="E" rx="17" ry="21.5"/><use href="#bK"/></g>
<g id="k36_3" transform="translate(253 1385)"><ellipse class="E" rx="17" ry="21.5"/><use href="#bK"/></g>
<g id="k36_4" transform="translate(329 1385)"><ellipse class="C" rx="17" ry="21.5"/><use href="#bW"/></g>
<g id="k37_1" transform="translate(63 1423)"><ellipse class="A" rx="17" ry="21.5"/><use href="#bfK"/></g>
<g id="k37_2" transform="translate(139 1423)"><ellipse class="E" rx="17" ry="21.5"/><use href="#bfK"/></g>
<g id="k37_3" transform="translate(215 1423)"><ellipse class="E" rx="17" ry="21.5"/><use href="#bfK"/></g>
<g id="k37_4" transform="translate(291 1423)"><ellipse class="C" rx="17" ry="21.5"/><use href="#bfW"/></g>
<g id="k37_5" transform="translate(367 1423)"><ellipse class="C" rx="17" ry="21.5"/><use href="#bfW"/></g>
<g id="k38_1" transform="translate(101 1461)"><ellipse class="A" rx="17" ry="21.5"/><use href="#fK"/></g>
<g id="k38_2" transform="translate(177 1461)"><ellipse class="E" rx="17" ry="21.5"/><use href="#fK"/></g>
<g id="k38_3" transform="translate(253 1461)"><ellipse class="E" rx="17" ry="21.5"/><use href="#fK"/></g>
<g id="k38_4" transform="translate(329 1461)"><ellipse class="C" rx="17" ry="21.5"/><use href="#fW"/></g>
<g id="k39_1" transform="translate(63 1499)"><ellipse class="A" rx="17" ry="21.5"/><use href="#fK"/></g>
<g id="k39_2" transform="translate(139 1499)"><ellipse class="A" rx="17" ry="21.5"/><use href="#fK"/></g>
<g id="k39_3" transform="translate(215 1499)"><ellipse class="E" rx="17" ry="21.5"/><use href="#fK"/></g>
<g id="k39_4" transform="translate(291 1499)"><ellipse class="E" rx="17" ry="21.5"/><use href="#fK"/></g>
<g id="k39_5" transform="translate(367 1499)"><ellipse class="C" rx="17" ry="21.5"/><use href="#fW"/></g>
<g id="k40_1" transform="translate(101 1537)"><ellipse class="A" rx="17" ry="21.5"/><use href="#fK"/></g>
<g id="k40_2" transform="translate(177 1537)"><ellipse class="A" rx="17" ry="21.5"/><use href="#fK"/></g>
<g id="k40_3" transform="translate(253 1537)"><ellipse class="E" rx="17" ry="21.5"/><use href="#fK"/></g>
<g id="k40_4" transform="translate(329 1537)"><ellipse class="E" rx="17" ry="21.5"/><use href="#fK"/></g>
<g id="k41_1" transform="translate(63 1575)"><ellipse class="B" rx="17" ry="21.5"/><use href="#fbW"/></g>
<g id="k41_2" transform="translate(139 1575)"><ellipse class="A" rx="17" ry="21.5"/><use href="#fbK"/></g>
<g id="k41_3" transform="translate(215 1575)"><ellipse class="A" rx="17" ry="21.5"/><use href="#fbK"/></g>
<g id="k41_4" transform="translate(291 1575)"><ellipse class="E" rx="17" ry="21.5"/><use href="#fbK"/></g>
<g id="k41_5" transform="translate(367 1575)"><ellipse class="E" rx="17" ry="21.5"/><use href="#fbK"/></g>
<g id="k42_1" transform="translate(101 1613)"><ellipse class="A" rx="17" ry="21.5"/><use href="#bK"/></g>
<g id="k42_2" transform="translate(177 1613)"><ellipse class="A" rx="17" ry="21.5"/><use href="#bK"/></g>
<g id="k42_3" transform="translate(253 1613)"><ellipse class="E" rx="17" ry="21.5"/><use href="#bK"/></g>
<g id="k42_4" transform="translate(329 1613)"><ellipse class="E" rx="17" ry="21.5"/><use href="#bK"/></g>
<g id="k43_1" transform="translate(63 1651)"><ellipse class="A" rx="17" ry="21.5"/><use href="#bfK"/></g>
<g id="k43_2" transform="translate(139 1651)"><ellipse class="A" rx="17" ry="21.5"/><use href="#bfK"/></g>
<g id="k43_3" transform="translate(215 1651)"><ellipse class="E" rx="17" ry="21.5"/><use href="#bfK"/></g>
<g id="k43_4" transform="translate(291 1651)"><ellipse class="E" rx="17" ry="21.5"/><use href="#bfK"/></g>
<g id="k43_5" transform="translate(367 1651)"><ellipse class="C" rx="17" ry="21.5"/><use href="#bfW"/></g>
<g id="k44_1" transform="translate(101 1689)"><ellipse class="A" rx="17" ry="21.5"/><use href="#fK"/></g>
<g id="k44_2" transform="translate(177 1689)"><ellipse class="A" rx="17" ry="21.5"/><use href="#fK"/></g>
<g id="k44_3" transform="translate(253 1689)"><ellipse class="E" rx="17" ry="21.5"/><use href="#fK"/></g>
<g id="k44_4" transform="translate(329 1689)"><ellipse class="E" rx="17" ry="21.5"/><use href="#fK"/></g>
<g id="k45_1" transform="translate(63 1727)"><ellipse class="B" rx="17" ry="21.5"/><use href="#fW"/></g>
<g id="k45_2" transform="translate(139 1727)"><ellipse class="A" rx="17" ry="21.5"/><use href="#fK"/></g>
<g id="k45_3" transform="translate(215 1727)"><ellipse class="A" rx="17" ry="21.5"/><use href="#fK"/></g>
<g id="k45_4" transform="translate(291 1727)"><ellipse class="E" rx="17" ry="21.5"/><use href="#fK"/></g>
<g id="k45_5" transform="translate(367 1727)"><ellipse class="E" rx="17" ry="21.5"/><use href="#fK"/></g>
<g id="k46_1" transform="translate(101 1765)"><ellipse class="B" rx="17" ry="21.5"/><use href="#fW"/></g>
<g id="k46_2" transform="translate(177 1765)"><ellipse class="A" rx="17" ry="21.5"/><use href="#fK"/></g>
<g id="k46_3" transform="translate(253 1765)"><ellipse class="A" rx="17" ry="21.5"/><use href="#fK"/></g>
<g id="k46_4" transform="translate(329 1765)"><ellipse class="E" rx="17" ry="21.5"/><use href="#fK"/></g>
<g id="k47_1" transform="translate(63 1803)"><ellipse class="B" rx="17" ry="21.5"/><use href="#fbW"/></g>
<g id="k47_2" transform="translate(139 1803)"><ellipse class="B" rx="17" ry="21.5"/><use href="#fbW"/></g>
<g id="k47_3" transform="translate(215 1803)"><ellipse class="A" rx="17" ry="21.5"/><use href="#fbK"/></g>
<g id="k47_4" transform="translate(291 1803)"><ellipse class="A" rx="17" ry="21.5"/><use href="#fbK"/></g>
<g id="k47_5" transform="translate(367 1803)"><ellipse class="E" rx="17" ry="21.5"/><use href="#fbK"/></g>
<g id="k48_1" transform="translate(101 1841)"><ellipse class="B" rx="17" ry="21.5"/><use href="#bW"/></g>
<g id="k48_2" transform="translate(177 1841)"><ellipse class="A" rx="17" ry="21.5"/><use href="#bK"/></g>
<g id="k48_3" transform="translate(253 1841)"><ellipse class="A" rx="17" ry="21.5"/><use href="#bK"/></g>
<g id="k48_4" transform="translate(329 1841)"><ellipse class="E" rx="17" ry="21.5"/><use href="#bK"/></g>
<g id="k49_1" transform="translate(63 1879)"><ellipse class="B" rx="17" ry="21.5"/><use href="#bfW"/></g>
<g id="k49_2" transform="translate(139 1879)"><ellipse class="A" rx="17" ry="21.5"/><use href="#bfK"/></g>
<g id="k49_3" transform="translate(215 1879)"><ellipse class="A" rx="17" ry="21.5"/><use href="#bfK"/></g>
<g id="k49_4" transform="translate(291 1879)"><ellipse class="E" rx="17" ry="21.5"/><use href="#bfK"/></g>
<g id="k49_5" transform="translate(367 1879)"><ellipse class="E" rx="17" ry="21.5"/><use href="#bfK"/></g>
<g id="k50_1" transform="translate(101 1917)"><ellipse class="B" rx="17" ry="21.5"/><use href="#fW"/></g>
<g id="k50_2" transform="translate(177 1917)"><ellipse class="A" rx="17" ry="21.5"/><use href="#fK"/></g>
<g id="k50_3" transform="translate(253 1917)"><ellipse class="A" rx="17" ry="21.5"/><use href="#fK"/></g>
<g id="k50_4" transform="translate(329 1917)"><ellipse class="E" rx="17" ry="21.5"/><use href="#fK"/></g>
<g id="k51_1" transform="translate(63 1955)"><ellipse class="B" rx="17" ry="21.5"/><use href="#fW"/></g>
<g id="k51_2" transform="translate(139 1955)"><ellipse class="B" rx="17" ry="21.5"/><use href="#fW"/></g>
<g id="k51_3" transform="translate(215 1955)"><ellipse class="A" rx="17" ry="21.5"/><use href="#fK"/></g>
<g id="k51_4" transform="translate(291 1955)"><ellipse class="A" rx="17" ry="21.5"/><use href="#fK"/></g>
<g id="k51_5" transform="translate(367 1955)"><ellipse class="E" rx="17" ry="21.5"/><use href="#fK"/></g>
<g id="k52_1" transform="translate(101 1993)"><ellipse class="B" rx="17" ry="21.5"/><use href="#fW"/></g>
<g id="k52_2" transform="translate(177 1993)"><ellipse class="B" rx="17" ry="21.5"/><use href="#fW"/></g>
<g id="k52_3" transform="translate(253 1993)"><ellipse class="A" rx="17" ry="21.5"/><use href="#fK"/></g>
<g id="k52_4" transform="translate(329 1993)"><ellipse class="A" rx="17" ry="21.5"/><use href="#fK"/></g>
<g id="k53_1" transform="translate(63 2031)"><ellipse class="D" rx="17" ry="21.5"/><use href="#fbW"/></g>
<g id="k53_2" transform="translate(139 2031)"><ellipse class="B" rx="17" ry="21.5"/><use href="#fbW"/></g>
<g id="k53_3" transform="translate(215 2031)"><ellipse class="B" rx="17" ry="21.5"/><use href="#fbW"/></g>
<g id="k53_4" transform="translate(291 2031)"><ellipse class="A" rx="17" ry="21.5"/><use href="#fbK"/></g>
<g id="k53_5" transform="translate(367 2031)"><ellipse class="A" rx="17" ry="21.5"/><use href="#fbK"/></g>
<g id="k54_1" transform="translate(101 2069)"><ellipse class="B" rx="17" ry="21.5"/><use href="#bW"/></g>
<g id="k54_2" transform="translate(177 2069)"><ellipse class="B" rx="17" ry="21.5"/><use href="#bW"/></g>
<g id="k54_3" transform="translate(253 2069)"><ellipse class="A" rx="17" ry="21.5"/><use href="#bK"/></g>
<g id="k54_4" transform="translate(329 2069)"><ellipse class="A" rx="17" ry="21.5"/><use href="#bK"/></g>
<g id="k55_1" transform="translate(63 2107)"><ellipse class="B" rx="17" ry="21.5"/><use href="#bfW"/></g>
<g id="k55_2" transform="translate(139 2107)"><ellipse class="B" rx="17" ry="21.5"/><use href="#bfW"/></g>
<g id="k55_3" transform="translate(215 2107)"><ellipse class="A" rx="17" ry="21.5"/><use href="#bfK"/></g>
<g id="k55_4" transform="translate(291 2107)"><ellipse class="A" rx="17" ry="21.5"/><use href="#bfK"/></g>
<g id="k55_5" transform="translate(367 2107)"><ellipse class="E" rx="17" ry="21.5"/><use href="#bfK"/></g>
<g id="k56_1" transform="translate(101 2145)"><ellipse class="B" rx="17" ry="21.5"/><use href="#fW"/></g>
<g id="k56_2" transform="translate(177 2145)"><ellipse class="B" rx="17" ry="21.5"/><use href="#fW"/></g>
<g id="k56_3" transform="translate(253 2145)"><ellipse class="A" rx="17" ry="21.5"/><use href="#fK"/></g>
<g id="k56_4" transform="translate(329 2145)"><ellipse class="A" rx="17" ry="21.5"/><use href="#fK"/></g>
<g id="k57_1" transform="translate(63 2183)"><ellipse class="D" rx="17" ry="21.5"/><use href="#fW"/></g>
<g id="k57_2" transform="translate(139 2183)"><ellipse class="B" rx="17" ry="21.5"/><use href="#fW"/></g>
<g id="k57_3" transform="translate(215 2183)"><ellipse class="B" rx="17" ry="21.5"/><use href="#fW"/></g>
<g id="k57_4" transform="translate(291 2183)"><ellipse class="A" rx="17" ry="21.5"/><use href="#fK"/></g>
<g id="k57_5" transform="translate(367 2183)"><ellipse class="A" rx="17" ry="21.5"/><use href="#fK"/></g>
<g id="k58_1" transform="translate(101 2221)"><ellipse class="D" rx="17" ry="21.5"/><use href="#fW"/></g>
<g id="k58_2" transform="translate(177 2221)"><ellipse class="B" rx="17" ry="21.5"/><use href="#fW"/></g>
<g id="k58_3" transform="translate(253 2221)"><ellipse class="B" rx="17" ry="21.5"/><use href="#fW"/></g>
<g id="k58_4" transform="translate(329 2221)"><ellipse class="A" rx="17" ry="21.5"/><use href="#fK"/></g>
<g id="k59_1" transform="translate(63 2259)"><ellipse class="D" rx="17" ry="21.5"/><use href="#fbW"/></g>
<g id="k59_2" transform="translate(139 2259)"><ellipse class="D" rx="17" ry="21.5"/><use href="#fbW"/></g>
<g id="k59_3" transform="translate(215 2259)"><ellipse class="B" rx="17" ry="21.5"/><use href="#fbW"/></g>
<g id="k59_4" transform="translate(291 2259)"><ellipse class="B" rx="17" ry="21.5"/><use href="#fbW"/></g>
<g id="k59_5" transform="translate(367 2259)"><ellipse class="A" rx="17" ry="21.5"/><use href="#fbK"/></g>
<g id="k60_1" transform="translate(101 2297)"><ellipse class="D" rx="17" ry="21.5"/><use href="#bW"/></g>
<g id="k60_2" transform="translate(177 2297)"><ellipse class="B" rx="17" ry="21.5"/><use href="#bW"/></g>
<g id="k60_3" transform="translate(253 2297)"><ellipse class="B" rx="17" ry="21.5"/><use href="#bW"/></g>
<g id="k60_4" transform="translate(329 2297)"><ellipse class="A" rx="17" ry="21.5"/><use href="#bK"/></g>
</g>
<text class="wm" x="215" y="1181">BRACELETBOOK.COM</text>
</svg>
